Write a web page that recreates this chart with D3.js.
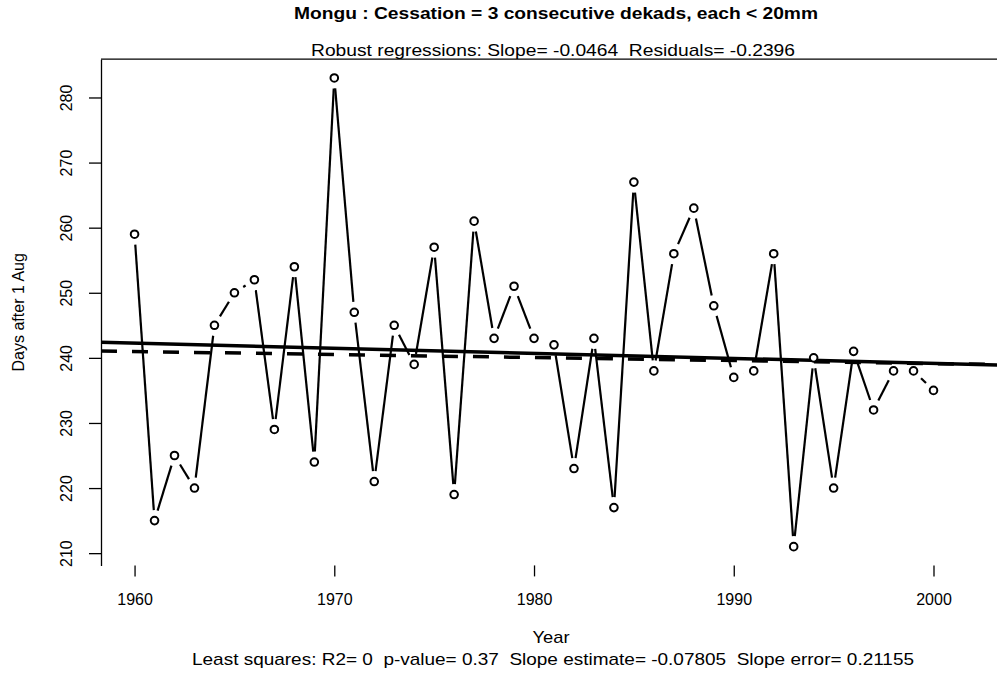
<!DOCTYPE html>
<html>
<head>
<meta charset="utf-8">
<script src="https://cdn.jsdelivr.net/npm/d3@7"></script>
<style>
  body { margin: 0; background: #fff; }
  svg { display: block; font-family: "Liberation Sans", Arial, sans-serif; }
  text { white-space: pre; }
</style>
</head>
<body>
<svg id="chart" width="997" height="675"></svg>
<script>
// ---- Data
const years = [1960, 1961, 1962, 1963, 1964, 1965, 1966, 1967, 1968, 1969,
               1970, 1971, 1972, 1973, 1974, 1975, 1976, 1977, 1978, 1979,
               1980, 1981, 1982, 1983, 1984, 1985, 1986, 1987, 1988, 1989,
               1990, 1991, 1992, 1993, 1994, 1995, 1996, 1997, 1998, 1999, 2000];
const days  = [259, 215, 225, 220, 245, 250, 252, 229, 254, 224,
               283, 247, 221, 245, 239, 257, 219, 261, 243, 251,
               243, 242, 223, 243, 217, 267, 238, 256, 263, 248,
               237, 238, 256, 211, 240, 220, 241, 232, 238, 238, 235];

const xTicks = [1960, 1970, 1980, 1990, 2000];
const yTicks = [210, 220, 230, 240, 250, 260, 270, 280];

// regression lines: value at 1980 and slope per year
const lsFit     = { at1980: 240.7, slope: -0.07805 };
const robustFit = { at1980: 240.05, slope: -0.0464 };

const title    = 'Mongu : Cessation = 3 consecutive dekads, each < 20mm';
const subtitle = 'Robust regressions: Slope= -0.0464  Residuals= -0.2396';
const xTitle   = 'Year';
const footer   = 'Least squares: R2= 0  p-value= 0.37  Slope estimate= -0.07805  Slope error= 0.21155';
const yTitle   = 'Days after 1 Aug';

// ---- Layout
const svg = d3.select('#chart');
const plot = { left: 101, right: 1007, top: 59.2, bottom: 565.4 };

// ---- Scales
const x = d3.scaleLinear().domain([1958.32, 2003.68]).range([plot.left, plot.right]);
const y = d3.scaleLinear().domain([208.12, 285.88]).range([plot.bottom, plot.top]);

// ---- Texts (widths stretched to the original's narrow-tall font)
function label(txt, cx, cy, len, bold) {
    svg.append('text')
        .attr('x', cx - len / 2).attr('y', cy)
        .attr('textLength', len)
        .attr('lengthAdjust', 'spacingAndGlyphs')
        .style('font-weight', bold ? 'bold' : 'normal')
        .style('font-size', '17px')
        .text(txt);
}
label(title, 556, 19, 524, true);
label(subtitle, 553, 56, 484, false);
label(xTitle, 551, 643, 37, false);
label(footer, 553, 665, 722, false);

svg.append('text')
    .attr('transform', `translate(24, ${(plot.top + plot.bottom) / 2}) rotate(-90)`)
    .attr('text-anchor', 'middle')
    .style('font-size', '16px')
    .text(yTitle);

// ---- Axes
const yAxis = d3.axisLeft(y).tickValues(yTicks).tickSize(12).tickSizeOuter(0);
svg.append('g')
    .attr('transform', `translate(${plot.left}, 0)`)
    .call(yAxis)
    .call(g => g.selectAll('line, path').attr('stroke', '#000').attr('stroke-width', 1.3))
    .call(g => g.selectAll('text')
        .attr('x', null).attr('dy', null)
        .attr('transform', 'rotate(-90)')
        .attr('y', -29)
        .attr('text-anchor', 'middle')
        .attr('fill', '#000')
        .style('font-size', '16px')
        .style('font-family', '"Liberation Sans", Arial, sans-serif'));

const xAxis = d3.axisBottom(x).tickValues(xTicks).tickFormat(d3.format('d')).tickSize(11).tickPadding(17);
svg.append('g')
    .attr('transform', `translate(0, ${plot.bottom})`)
    .call(xAxis)
    .call(g => g.select('.domain').remove())
    .call(g => g.selectAll('line').attr('stroke', '#000').attr('stroke-width', 1.3))
    .call(g => g.selectAll('text')
        .attr('fill', '#000')
        .style('font-size', '16px')
        .style('font-family', '"Liberation Sans", Arial, sans-serif'));

// top frame line
svg.append('line')
    .attr('x1', plot.left).attr('x2', plot.right)
    .attr('y1', plot.top).attr('y2', plot.top)
    .attr('stroke', '#000').attr('stroke-width', 1.3);

// ---- Regression lines (clipped to plot region)
svg.append('clipPath').attr('id', 'clip')
    .append('rect')
    .attr('x', plot.left).attr('y', plot.top)
    .attr('width', plot.right - plot.left).attr('height', plot.bottom - plot.top);

const fitGroup = svg.append('g').attr('clip-path', 'url(#clip)');
const ends = x.domain();
const fitLine = fit => d3.line()
    .x(d => x(d))
    .y(d => y(fit.at1980 + fit.slope * (d - 1980)))(ends);

fitGroup.append('path')
    .attr('d', fitLine(robustFit))
    .attr('fill', 'none').attr('stroke', '#000')
    .attr('stroke-width', 3.5)
    .attr('stroke-dasharray', '16,15');

fitGroup.append('path')
    .attr('d', fitLine(lsFit))
    .attr('fill', 'none').attr('stroke', '#000')
    .attr('stroke-width', 3.5);

// ---- Series (type "b": segments with gaps at the points)
const pts = years.map((yr, i) => [x(yr), y(days[i])]);
const gap = 10.5;
const segs = [];
for (let i = 0; i < pts.length - 1; i++) {
    const [x0, y0] = pts[i];
    const [x1, y1] = pts[i + 1];
    const len = Math.hypot(x1 - x0, y1 - y0);
    if (len <= 2 * gap) continue;
    const ux = (x1 - x0) / len, uy = (y1 - y0) / len;
    segs.push([x0 + ux * gap, y0 + uy * gap, x1 - ux * gap, y1 - uy * gap]);
}

svg.append('g').selectAll('line')
    .data(segs)
    .join('line')
    .attr('x1', d => d[0]).attr('y1', d => d[1])
    .attr('x2', d => d[2]).attr('y2', d => d[3])
    .attr('stroke', '#000').attr('stroke-width', 2.2);

svg.append('g').selectAll('circle')
    .data(pts)
    .join('circle')
    .attr('cx', d => d[0]).attr('cy', d => d[1])
    .attr('r', 3.8)
    .attr('fill', '#fff')
    .attr('stroke', '#000').attr('stroke-width', 2);
</script>
</body>
</html>
